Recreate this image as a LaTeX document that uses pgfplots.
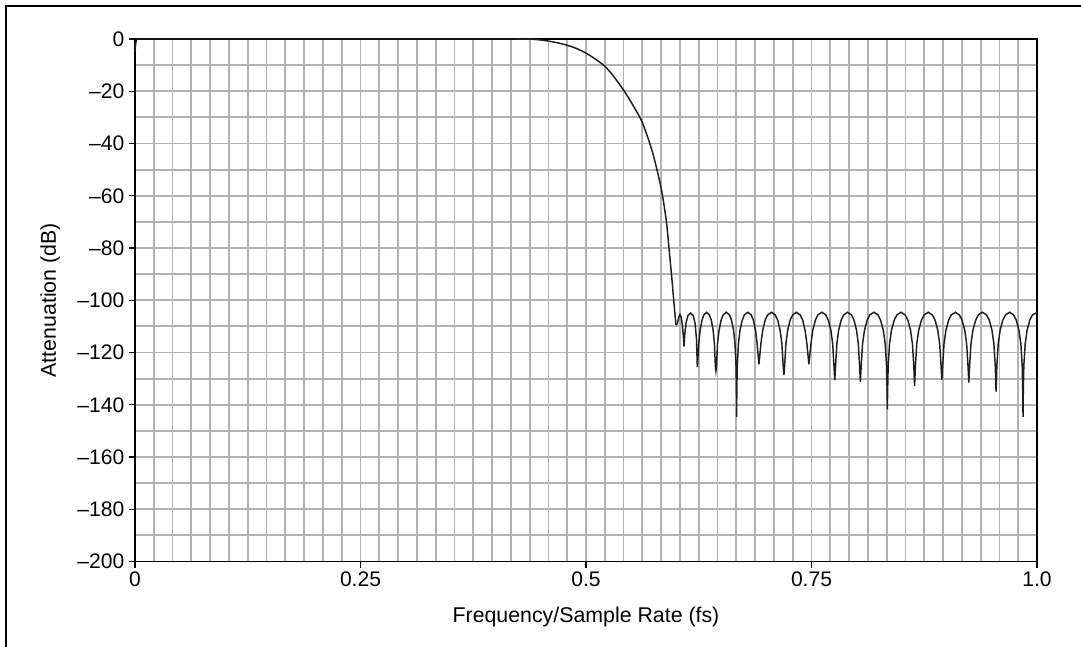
\documentclass[border=0pt]{standalone}
\usepackage{fontspec}
\setmainfont{Liberation Sans}
\usepackage{pgfplots}
\pgfplotsset{compat=1.18}
\definecolor{gridgray}{RGB}{178,178,178}
\definecolor{curve}{RGB}{30,30,30}
\begin{document}
\begin{tikzpicture}
\useasboundingbox (-101.25pt,-63.375pt) rectangle (709.5pt,421.125pt);
\draw[line width=1.5pt,black] (-96.75pt,-70pt) -- (-96.75pt,416.85pt) -- (720pt,416.85pt);
\begin{axis}[
  at={(0pt,0pt)}, anchor=south west,
  scale only axis, width=676.5pt, height=391.875pt,
  xmin=0, xmax=1, ymin=-200, ymax=0,
  xtick={0,0.25,0.5,0.75,1},
  xticklabels={0,0.25,0.5,0.75,1.0},
  minor xtick={0.020833,0.041667,0.0625,0.083333,0.104167,0.125,0.145833,0.166667,0.1875,0.208333,0.229167,
    0.270833,0.291667,0.3125,0.333333,0.354167,0.375,0.395833,0.416667,0.4375,0.458333,0.479167,
    0.520833,0.541667,0.5625,0.583333,0.604167,0.625,0.645833,0.666667,0.6875,0.708333,0.729167,
    0.770833,0.791667,0.8125,0.833333,0.854167,0.875,0.895833,0.916667,0.9375,0.958333,0.979167},
  ytick={-200,-180,-160,-140,-120,-100,-80,-60,-40,-20,0},
  yticklabels={{\textendash}200,{\textendash}180,{\textendash}160,{\textendash}140,{\textendash}120,{\textendash}100,{\textendash}80,{\textendash}60,{\textendash}40,{\textendash}20,0},
  minor ytick={-190,-170,-150,-130,-110,-90,-70,-50,-30,-10},
  grid=both,
  major grid style={gridgray, line width=1.35pt},
  minor grid style={gridgray, line width=1.35pt},
  tick align=outside, major tick length=4.5pt, minor tick length=0pt,
  tick style={black, line width=1pt},
  xtick pos=bottom, ytick pos=left,
  axis line style={black, line width=1.1pt},
  font=\fontsize{16}{18}\selectfont,
  tick label style={font=\fontsize{15.8}{18}\selectfont},
  every axis x label/.style={at={(rel axis cs:0.5,0)}, yshift=-41.5pt, anchor=center},
  every axis y label/.style={at={(rel axis cs:0,0.5)}, xshift=-63.5pt, rotate=90, anchor=center},
  xlabel={Frequency/Sample Rate (fs)},
  ylabel={Attenuation (dB)},
]
\addplot[curve, line width=1.1pt, smooth, tension=0.4] coordinates {
(0.42,0) (0.44,-0.1) (0.45,-0.4) (0.4583,-0.8) (0.4688,-1.5) (0.4792,-2.4)
(0.49,-3.7) (0.5,-5.4) (0.51,-7.6) (0.5208,-10.4) (0.53,-14.0) (0.5417,-19.6) (0.552,-25.3) (0.5625,-32)
(0.5739,-43.5) (0.5833,-57.1) (0.5889,-69.2) (0.5920,-80) (0.5950,-91) (0.5975,-101) (0.5997,-109.4)
};
\addplot[curve, line width=1.1pt] coordinates {
(0,-5) (0.0008,-1.5) (0.002,0) (0.42,0)
};
\addplot[curve, line width=1.1pt] coordinates {
(0.5997,-109.4)
(0.6012,-109.0) (0.6030,-106.3) (0.6042,-105.5) (0.6055,-106.5) (0.6070,-110) (0.6080,-114) (0.6086,-117.7)
(0.6095,-113) (0.6110,-108.5) (0.6130,-105.9) (0.6160,-104.9) (0.6190,-106.0) (0.6210,-109) (0.6225,-115) (0.6234,-125.6)
(0.6250,-116.7) (0.6265,-111.5) (0.6286,-107.6) (0.6306,-105.6) (0.6337,-104.6) (0.6368,-105.6) (0.6389,-107.6) (0.6409,-111.5) (0.6424,-116.7) (0.6434,-125.1)
(0.6440,-127.0)
(0.6447,-125.1) (0.6458,-116.7) (0.6475,-111.5) (0.6498,-107.6) (0.6521,-105.6) (0.6555,-104.6) (0.6590,-105.6) (0.6613,-107.6) (0.6636,-111.5) (0.6652,-116.7) (0.6663,-125.1) (0.6668,-134.6)
(0.6670,-144.6)
(0.6672,-134.6) (0.6677,-125.1) (0.6690,-116.7) (0.6707,-111.5) (0.6732,-107.6) (0.6756,-105.6) (0.6794,-104.6) (0.6831,-105.6) (0.6855,-107.6) (0.6880,-111.5) (0.6897,-116.7)
(0.6917,-124.5)
(0.6939,-116.7) (0.6959,-111.5) (0.6986,-107.6) (0.7014,-105.6) (0.7056,-104.6) (0.7097,-105.6) (0.7125,-107.6) (0.7152,-111.5) (0.7172,-116.7) (0.7186,-125.1)
(0.7194,-128.6)
(0.7202,-125.1) (0.7216,-116.7) (0.7236,-111.5) (0.7263,-107.6) (0.7291,-105.6) (0.7333,-104.6) (0.7374,-105.6) (0.7402,-107.6) (0.7429,-111.5) (0.7449,-116.7)
(0.7471,-124.5)
(0.7494,-116.7) (0.7514,-111.5) (0.7543,-107.6) (0.7571,-105.6) (0.7615,-104.6) (0.7658,-105.6) (0.7686,-107.6) (0.7715,-111.5) (0.7735,-116.7) (0.7749,-125.1)
(0.7758,-130.5)
(0.7767,-125.1) (0.7781,-116.7) (0.7801,-111.5) (0.7829,-107.6) (0.7857,-105.6) (0.7900,-104.6) (0.7943,-105.6) (0.7971,-107.6) (0.7999,-111.5) (0.8019,-116.7) (0.8033,-125.1)
(0.8042,-131.2)
(0.8051,-125.1) (0.8066,-116.7) (0.8087,-111.5) (0.8117,-107.6) (0.8147,-105.6) (0.8192,-104.6) (0.8236,-105.6) (0.8266,-107.6) (0.8296,-111.5) (0.8317,-116.7) (0.8332,-125.1) (0.8338,-134.6)
(0.8341,-141.8)
(0.8344,-134.6) (0.8350,-125.1) (0.8365,-116.7) (0.8386,-111.5) (0.8417,-107.6) (0.8447,-105.6) (0.8492,-104.6) (0.8537,-105.6) (0.8568,-107.6) (0.8598,-111.5) (0.8619,-116.7) (0.8634,-125.1)
(0.8643,-132.8)
(0.8652,-125.1) (0.8667,-116.7) (0.8688,-111.5) (0.8719,-107.6) (0.8749,-105.6) (0.8794,-104.6) (0.8839,-105.6) (0.8870,-107.6) (0.8900,-111.5) (0.8921,-116.7) (0.8936,-125.1)
(0.8945,-130.5)
(0.8954,-125.1) (0.8969,-116.7) (0.8990,-111.5) (0.9020,-107.6) (0.9050,-105.6) (0.9095,-104.6) (0.9139,-105.6) (0.9169,-107.6) (0.9199,-111.5) (0.9220,-116.7) (0.9235,-125.1)
(0.9244,-131.5)
(0.9253,-125.1) (0.9268,-116.7) (0.9289,-111.5) (0.9320,-107.6) (0.9350,-105.6) (0.9395,-104.6) (0.9440,-105.6) (0.9471,-107.6) (0.9501,-111.5) (0.9522,-116.7) (0.9537,-125.1)
(0.9546,-135.0)
(0.9555,-125.1) (0.9570,-116.7) (0.9591,-111.5) (0.9621,-107.6) (0.9651,-105.6) (0.9696,-104.6) (0.9740,-105.6) (0.9770,-107.6) (0.9800,-111.5) (0.9821,-116.7) (0.9836,-125.1) (0.9842,-134.6)
(0.9845,-144.6)
(0.9848,-134.6) (0.9854,-125.1) (0.9869,-116.7) (0.9890,-111.5) (0.9920,-107.6) (0.9950,-105.6) (1.0,-104.7)
};
\end{axis}
\end{tikzpicture}
\end{document}
